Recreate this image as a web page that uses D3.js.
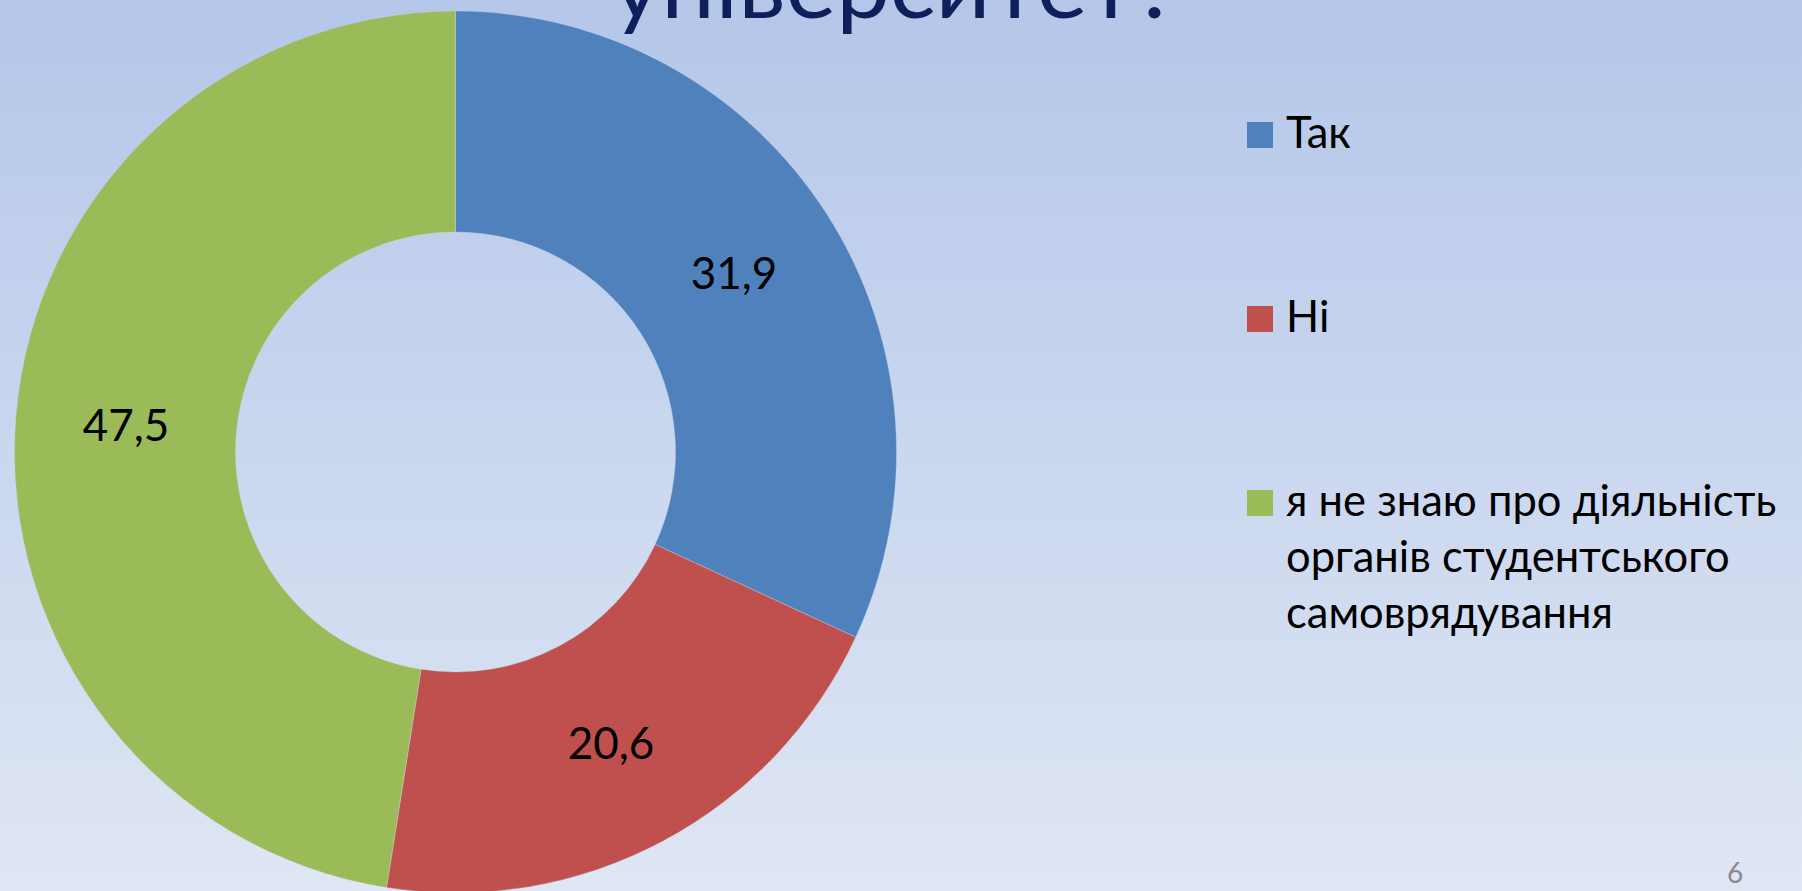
<!DOCTYPE html>
<html>
<head>
<meta charset="utf-8">
<script src="https://cdn.jsdelivr.net/npm/d3@7"></script>
<style>
  html, body { margin: 0; padding: 0; overflow: hidden; }
  svg { display: block; font-family: Lato, "Open Sans", "Noto Sans", sans-serif; }
</style>
</head>
<body>
<svg id="chart"></svg>
<script>
const categories = ["Так", "Ні", "я не знаю про діяльність органів студентського самоврядування"];
const values = [31.9, 20.6, 47.5];
const legendLines = [["Так"], ["Ні"], ["я не знаю про діяльність", "органів студентського", "самоврядування"]];
const colors = ["#4F81BD", "#C0504D", "#9BBB59"];
const titleText = "університет?";
const pageNumber = "6";

const svgWidth = 1802;
const svgHeight = 891;

const svg = d3.select("#chart")
  .attr("width", svgWidth)
  .attr("height", svgHeight);

// slide background
const grad = svg.append("defs").append("linearGradient")
  .attr("id", "bg")
  .attr("x1", 0).attr("y1", 0).attr("x2", 0).attr("y2", 1);
grad.append("stop").attr("offset", "0%").attr("stop-color", "#b4c7e9");
grad.append("stop").attr("offset", "100%").attr("stop-color", "#dfe6f4");

svg.append("rect")
  .attr("width", svgWidth)
  .attr("height", svgHeight)
  .attr("fill", "url(#bg)");

// title (mostly above the visible area)
svg.append("text")
  .attr("x", 612)
  .attr("y", 18)
  .attr("font-size", 92)
  .attr("fill", "#0f1f5c")
  .attr("textLength", 566)
  .attr("lengthAdjust", "spacingAndGlyphs")
  .text(titleText);

// doughnut
const cx = 455.5, cy = 452;
const outerR = 441, innerR = 220;

const pie = d3.pie().sort(null).value(d => d);
const arc = d3.arc().innerRadius(innerR).outerRadius(outerR);
const fmt = d3.formatLocale({ decimal: ",", thousands: " ", grouping: [3], currency: ["", ""] }).format(".1f");

const g = svg.append("g").attr("transform", `translate(${cx},${cy})`);
const arcs = pie(values);

g.selectAll("path")
  .data(arcs)
  .enter()
  .append("path")
  .attr("d", arc)
  .attr("fill", (d, i) => colors[i])
  .attr("stroke", "#c9d5ea")
  .attr("stroke-opacity", 0.35)
  .attr("stroke-width", 1);

g.selectAll("text.label")
  .data(arcs)
  .enter()
  .append("text")
  .attr("class", "label")
  .attr("x", d => arc.centroid(d)[0])
  .attr("y", d => arc.centroid(d)[1] + 15)
  .attr("text-anchor", "middle")
  .attr("font-size", 44)
  .attr("fill", "#000")
  .text(d => fmt(d.data));

// legend
const legendY = [148, 332, 516];
const legend = svg.append("g").attr("class", "legend");
categories.forEach((c, i) => {
  const item = legend.append("g");
  item.append("rect")
    .attr("x", 1247)
    .attr("y", legendY[i] - 26)
    .attr("width", 26)
    .attr("height", 26)
    .attr("fill", colors[i]);
  const t = item.append("text")
    .attr("x", 1286)
    .attr("y", legendY[i])
    .attr("font-size", 43.5)
    .attr("fill", "#000");
  legendLines[i].forEach((line, j) => {
    t.append("tspan")
      .attr("x", 1286)
      .attr("dy", j === 0 ? 0 : 56)
      .text(line);
  });
});

// slide number
svg.append("text")
  .attr("x", 1735)
  .attr("y", 883)
  .attr("text-anchor", "middle")
  .attr("font-size", 28)
  .attr("fill", "#8a8a8a")
  .text(pageNumber);
</script>
</body>
</html>
